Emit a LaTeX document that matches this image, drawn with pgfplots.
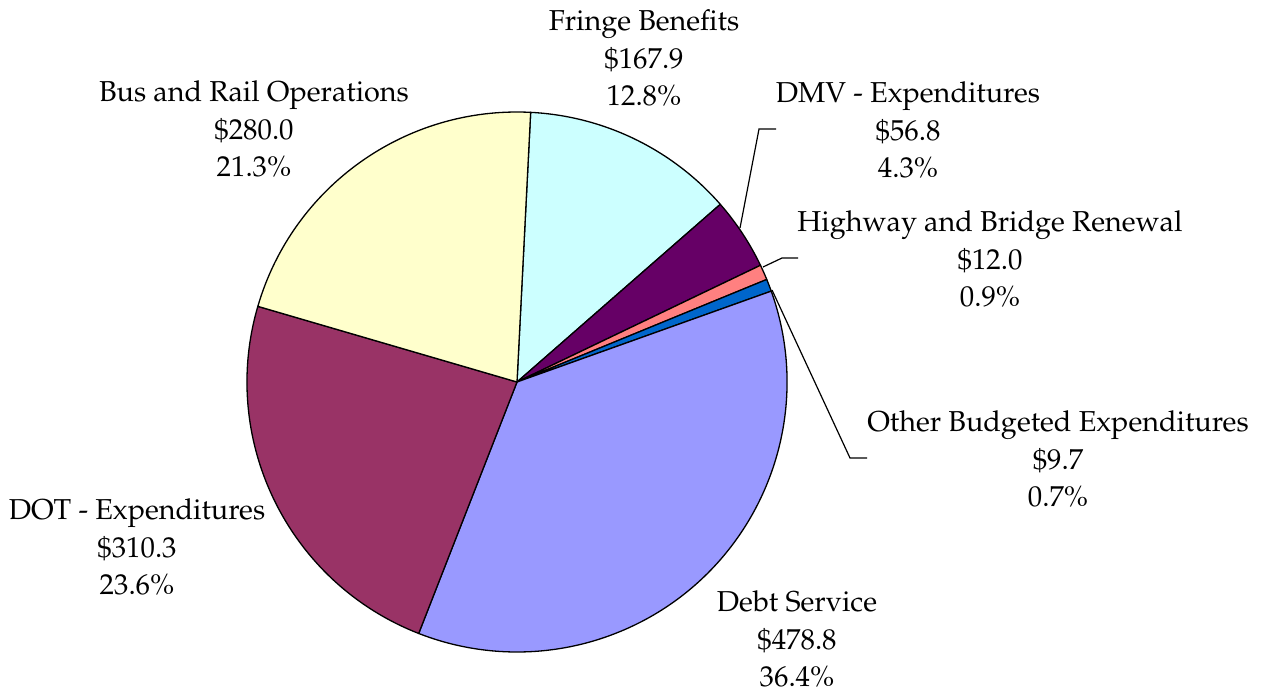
\documentclass[border=0pt]{standalone}
\usepackage[T1]{fontenc}
\usepackage{mathpazo}
\usepackage{pgfplots}
\pgfplotsset{compat=1.18}
\definecolor{cFringe}{HTML}{CCFFFF}
\definecolor{cDMV}{HTML}{660066}
\definecolor{cHwy}{HTML}{FF8080}
\definecolor{cOther}{HTML}{0066CC}
\definecolor{cDebt}{HTML}{9999FF}
\definecolor{cDOT}{HTML}{993366}
\definecolor{cBus}{HTML}{FFFFCC}
\begin{document}
\begin{tikzpicture}
\begin{axis}[
  scale only axis, width=633.5pt, height=346pt,
  xmin=0, xmax=1267, ymin=0, ymax=692,
  hide axis, clip=false,
]
\gdef\curang{87.1}
\foreach \v/\c in {167.9/cFringe, 56.8/cDMV, 12.0/cHwy, 9.7/cOther, 478.8/cDebt, 310.3/cDOT, 280.0/cBus}{
  \pgfmathsetmacro\endang{\curang - \v/1315.5*360}
  \edef\temp{\noexpand\filldraw[fill=\c, draw=black, line width=0.65pt, line join=round] (axis cs:517,310) -- ++(\curang:135pt) arc[start angle=\curang, end angle=\endang, radius=135pt] -- cycle;}
  \temp
  \global\let\curang\endang
}
% leader lines
\draw[line width=0.6pt] (axis cs:740,464) -- (axis cs:759,563) -- (axis cs:776,563);
\draw[line width=0.6pt] (axis cs:763,425) -- (axis cs:782,434) -- (axis cs:798,434);
\draw[line width=0.6pt] (axis cs:772,402) -- (axis cs:850,234) -- (axis cs:867,234);
% labels
\tikzset{lab/.style={align=center, font=\fontsize{14.4pt}{18.75pt}\selectfont, inner sep=0pt}}
\node[lab] at (axis cs:644,634) {Fringe Benefits\\\$167.9\\12.8\%};
\node[lab] at (axis cs:908,562) {DMV - Expenditures\\\$56.8\\4.3\%};
\node[lab] at (axis cs:990,433) {Highway and Bridge Renewal\\\$12.0\\0.9\%};
\node[lab] at (axis cs:1058,233) {Other Budgeted Expenditures\\\$9.7\\0.7\%};
\node[lab] at (axis cs:797,53) {Debt Service\\\$478.8\\36.4\%};
\node[lab] at (axis cs:137,145) {DOT - Expenditures\\\$310.3\\23.6\%};
\node[lab] at (axis cs:254,563) {Bus and Rail Operations\\\$280.0\\21.3\%};
\end{axis}
\pgfresetboundingbox
\path[use as bounding box] (current axis.south west) rectangle (current axis.north east);
\end{tikzpicture}
\end{document}
